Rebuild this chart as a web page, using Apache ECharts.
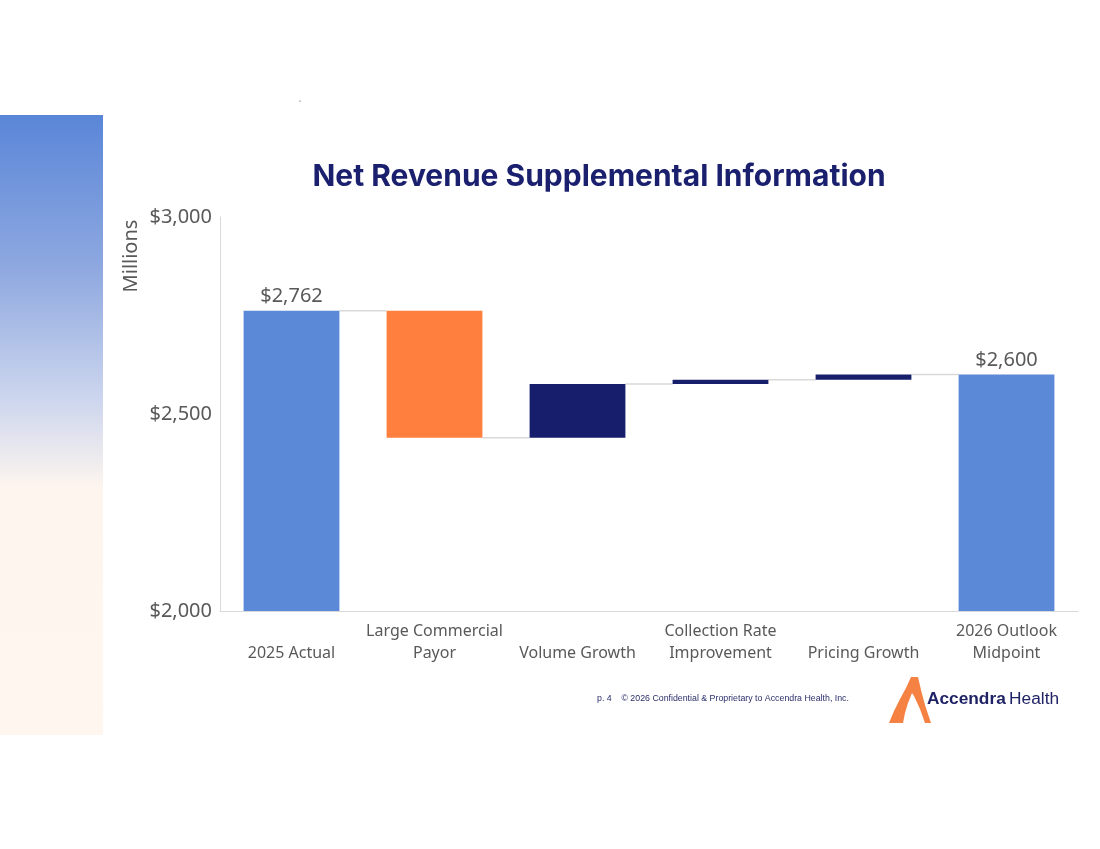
<!DOCTYPE html>
<html>
<head>
<meta charset="utf-8">
<script src="https://cdn.jsdelivr.net/npm/echarts@6/dist/echarts.min.js"></script>
<style>
html,body{margin:0;padding:0;background:#fff;}
#chart{width:1100px;height:849px;}
</style>
</head>
<body>
<div id="chart"></div>
<script>
var categories = ['2025 Actual', 'Large Commercial\nPayor', 'Volume Growth', 'Collection Rate\nImprovement', 'Pricing Growth', '2026 Outlook\nMidpoint'];
var changes = [2762, -322, 136, 11, 13, 2600];
var isTotal = [true, false, false, false, false, true];
var yTicks = [2000, 2500, 3000];
var colors = { total: '#5B89D8', down: '#FF7F3F', up: '#171E6C' };

// running totals built from the changes
var baseData = [], valueData = [], levels = [];
var running = 0;
for (var i = 0; i < changes.length; i++) {
  if (isTotal[i]) {
    baseData.push(0);
    valueData.push({ value: changes[i], itemStyle: { color: colors.total }, label: { show: true } });
    running = changes[i];
  } else {
    var start = running, end = running + changes[i];
    baseData.push(Math.min(start, end));
    valueData.push({ value: Math.abs(changes[i]), itemStyle: { color: changes[i] < 0 ? colors.down : colors.up } });
    running = end;
  }
  levels.push(running);
}
var connectorData = [];
for (var j = 0; j < levels.length - 1; j++) connectorData.push([j, levels[j]]);

var chart = echarts.init(document.getElementById('chart'));
var font = 'Noto Sans';
chart.setOption({
  animation: false,
  backgroundColor: '#ffffff',
  graphic: [
    {
      type: 'rect', z: -1,
      shape: { x: 0, y: 115, width: 103, height: 620 },
      style: {
        fill: new echarts.graphic.LinearGradient(0, 0, 0, 1, [
          { offset: 0, color: '#5A86D8' },
          { offset: 0.25, color: '#8FA9E0' },
          { offset: 0.46, color: '#CDD6EE' },
          { offset: 0.6, color: '#FDF5EE' },
          { offset: 1, color: '#FEF6EF' }
        ])
      }
    },
    {
      type: 'text', x: 599, y: 177,
      style: { text: 'Net Revenue Supplemental Information', fontFamily: 'Inter', fontWeight: 'bold', fontSize: 30, fill: '#1A1F6E', align: 'center', verticalAlign: 'middle' }
    },
    {
      type: 'text', x: 131, y: 256, rotation: Math.PI / 2,
      style: { text: 'Millions', fontSize: 20, fill: '#595959', fontFamily: font, align: 'center', verticalAlign: 'middle' }
    },
    {
      type: 'text', x: 597, y: 699,
      style: { text: 'p. 4    © 2026 Confidential & Proprietary to Accendra Health, Inc.', fontSize: 8.8, fill: '#2A2E6A', fontFamily: 'Liberation Sans', verticalAlign: 'middle' }
    },
    {
      type: 'polygon',
      shape: { points: [[889,723],[894,711],[900,699],[906,688],[911,677],[918,677],[921,690],[925,705],[931,723],[925,723],[920,709],[914,696],[912,693],[908,703],[905,713],[903,723]] },
      style: { fill: '#F58143' }
    },
    {
      type: 'text', x: 927, y: 699,
      style: {
        text: '{a|Accendra} {b|Health}',
        verticalAlign: 'middle',
        fill: '#1F2366',
        rich: {
          a: { fontFamily: 'Liberation Sans', fontWeight: 'bold', fontSize: 17.3, fill: '#1F2366' },
          b: { fontFamily: 'Liberation Sans', fontSize: 17.3, fill: '#1F2366' }
        }
      }
    },
    {
      type: 'circle', shape: { cx: 300, cy: 101, r: 0.6 }, style: { fill: '#333' }
    }
  ],
  grid: { left: 220, right: 22, top: 217, bottom: 238 },
  xAxis: {
    type: 'category',
    data: categories,
    axisLine: { lineStyle: { color: '#D9D9D9', width: 1 } },
    axisTick: { show: false },
    axisLabel: {
      interval: 0, margin: 9, fontSize: 16, lineHeight: 22, color: '#595959', fontFamily: font,
      formatter: function (v) { return v.indexOf('\n') < 0 ? '\n' + v : v; }
    }
  },
  yAxis: {
    type: 'value', min: yTicks[0], max: yTicks[yTicks.length - 1], interval: 500,
    axisLine: { show: true, lineStyle: { color: '#D9D9D9', width: 1 } },
    axisTick: { show: false },
    splitLine: { show: false },
    axisLabel: {
      margin: 8, fontSize: 20, color: '#595959', fontFamily: font,
      formatter: function (v) { return '$' + v.toLocaleString('en-US'); }
    }
  },
  series: [
    {
      type: 'bar', stack: 'wf', data: baseData, barCategoryGap: '33%',
      itemStyle: { color: 'transparent' }, silent: true
    },
    {
      type: 'bar', stack: 'wf', data: valueData, barCategoryGap: '33%',
      label: {
        show: false, position: 'top', distance: 4, fontSize: 20, color: '#595959', fontFamily: font,
        formatter: function (p) { return '$' + p.value.toLocaleString('en-US'); }
      }
    },
    {
      type: 'custom',
      data: connectorData,
      renderItem: function (params, api) {
        var idx = api.value(0), lvl = api.value(1);
        var p1 = api.coord([idx, lvl]);
        var p2 = api.coord([idx + 1, lvl]);
        var bw = api.size([1, 0])[0] * 0.67;
        return {
          type: 'line',
          shape: { x1: p1[0] + bw / 2, y1: p1[1], x2: p2[0] - bw / 2, y2: p2[1] },
          style: { stroke: '#D9D9D9', lineWidth: 1.5 }
        };
      },
      z: 1
    }
  ]
});
</script>
</body>
</html>
